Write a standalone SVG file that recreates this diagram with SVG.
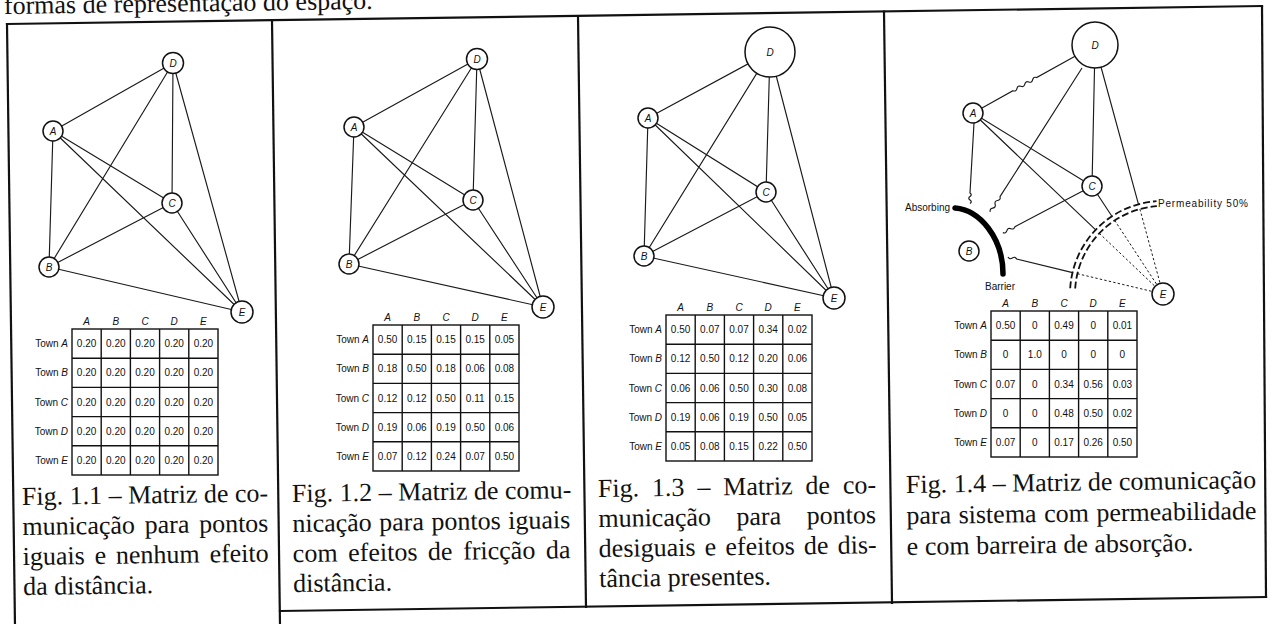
<svg xmlns="http://www.w3.org/2000/svg" width="1276" height="624" viewBox="0 0 1276 624">
<style>
.frame{stroke:#111;stroke-width:2.2;fill:none;stroke-linecap:square}
.edge{stroke:#1a1a1a;stroke-width:1.15;fill:none}
.dot{stroke:#1a1a1a;stroke-width:1;fill:none;stroke-dasharray:2.4 2.2}
.node circle{fill:#fff;stroke:#111;stroke-width:1.5}
.nl{font-family:'Liberation Sans',Arial,sans-serif;font-style:italic;font-size:10px;text-anchor:middle;fill:#111}
.grid{stroke:#111;stroke-width:1.4;fill:none}
.tv{font-family:'Liberation Sans',Arial,sans-serif;font-size:10px;text-anchor:middle;fill:#111}
.tl{font-family:'Liberation Sans',Arial,sans-serif;font-size:10px;text-anchor:end;fill:#111}
.th{font-family:'Liberation Sans',Arial,sans-serif;font-style:italic;font-size:10px;text-anchor:middle;fill:#111}
.i{font-style:italic}
.cap{font-family:'Liberation Serif','Times New Roman',serif;font-size:26px;fill:#111}
.lab{font-family:'Liberation Sans',Arial,sans-serif;font-size:10px;fill:#111}
.perm{stroke:#111;stroke-width:1.8;fill:none;stroke-dasharray:7 3}
</style>
<rect width="1276" height="624" fill="#fff"/>
<text class="cap" x="4" y="14" font-size="25" transform="rotate(-0.8 4 14)">formas de representação do espaço.</text>

<g id="frame">
<line class="frame" x1="7" y1="24" x2="1262" y2="6"/>
<line class="frame" x1="7" y1="24" x2="15" y2="626"/>
<line class="frame" x1="272" y1="20" x2="280" y2="626"/>
<line class="frame" x1="578" y1="16" x2="586" y2="607"/>
<line class="frame" x1="884" y1="11.5" x2="892" y2="603"/>
<line class="frame" x1="1262" y1="6" x2="1266" y2="597"/>
<line class="frame" x1="280" y1="611" x2="1266" y2="597"/>
</g>

<g id="connectors">
<path class="edge" d="M53,131L173,63M53,131L49,267M53,131L172,203M53,131L242,312M173,63L49,267M173,63L172,203M173,63L242,312M172,203L49,267M172,203L242,312M49,267L242,312"/>
<path class="edge" d="M354,127L477,59M354,127L349,264M354,127L473,200M354,127L543,307M477,59L349,264M477,59L473,200M477,59L543,307M473,200L349,264M473,200L543,307M349,264L543,307"/>
<path class="edge" d="M648,118L770,52M648,118L644,256M648,118L766,192M648,118L834,298M770,52L644,256M770,52L766,192M770,52L834,298M766,192L644,256M766,192L834,298M644,256L834,298"/>
<path class="edge" d="M982,108L1013,90.7q3.18,1.08 3.93,-2.19t3.93,-2.19t3.93,-2.19t3.93,-2.19t3.93,-2.19t3.93,-2.19L1075,56.2"/>
<path class="edge" d="M974,123L970,193q2.5,1.75 0,3.5t0,3.5t0,3.5"/>
<path class="edge" d="M1082,68L1000,196.7q0.9,3.24 -2.42,3.8t-2.42,3.8t-2.42,3.8t-2.42,3.8"/>
<path class="edge" d="M1083.2,190.7L1015,226.7q-0.93,3.23 -4.05,1.97t-4.05,1.97t-4.05,1.97"/>
<path class="edge" d="M1008,256.9q1.56,2.97 4.36,1.11t4.36,1.11L1072.6,272.6"/>
<path class="dot" d="M1077.4,273.7L1163,294"/>
<path class="edge" d="M973,113L1092,186M1095,45L1092,186"/>
<path class="edge" d="M973,113L1095.7,229.8M1092,186L1111.9,216.3M1095,45L1138.5,204.3"/>
<path class="dot" d="M1099.3,233.3L1163,294M1114.7,220.4L1163,294M1139.9,209.1L1163,294"/>
</g>

<g id="barriers">
<path d="M955,208C980,210 1003,238 1003,274" stroke="#000" stroke-width="5.5" fill="none" stroke-linecap="round"/>
<path class="perm" d="M1070.2,288.2A93,93 0 0 1 1156.5,201.2"/>
<path class="perm" d="M1075.2,288.5A88,88 0 0 1 1156.9,206.2"/>
<text class="lab" x="905" y="211">Absorbing</text>
<text class="lab" x="985" y="290">Barrier</text>
<text class="lab" x="1158" y="207" textLength="90" lengthAdjust="spacing">Permeability 50%</text>
</g>

<g id="p1-A" class="node"><circle cx="53" cy="131" r="10"/><text class="nl" x="53" y="134.5">A</text></g>
<g id="p1-B" class="node"><circle cx="49" cy="267" r="10"/><text class="nl" x="49" y="270.5">B</text></g>
<g id="p1-C" class="node"><circle cx="172" cy="203" r="10"/><text class="nl" x="172" y="206.5">C</text></g>
<g id="p1-D" class="node"><circle cx="173" cy="63" r="10.5"/><text class="nl" x="173" y="66.5">D</text></g>
<g id="p1-E" class="node"><circle cx="242" cy="312" r="11"/><text class="nl" x="242" y="315.5">E</text></g>

<g id="p2-A" class="node"><circle cx="354" cy="127" r="10"/><text class="nl" x="354" y="130.5">A</text></g>
<g id="p2-B" class="node"><circle cx="349" cy="264" r="10"/><text class="nl" x="349" y="267.5">B</text></g>
<g id="p2-C" class="node"><circle cx="473" cy="200" r="10"/><text class="nl" x="473" y="203.5">C</text></g>
<g id="p2-D" class="node"><circle cx="477" cy="59" r="10.5"/><text class="nl" x="477" y="62.5">D</text></g>
<g id="p2-E" class="node"><circle cx="543" cy="307" r="11"/><text class="nl" x="543" y="310.5">E</text></g>

<g id="p3-A" class="node"><circle cx="648" cy="118" r="10"/><text class="nl" x="648" y="121.5">A</text></g>
<g id="p3-B" class="node"><circle cx="644" cy="256" r="10"/><text class="nl" x="644" y="259.5">B</text></g>
<g id="p3-C" class="node"><circle cx="766" cy="192" r="10"/><text class="nl" x="766" y="195.5">C</text></g>
<g id="p3-D" class="node"><circle cx="770" cy="52" r="25"/><text class="nl" x="770" y="55.5">D</text></g>
<g id="p3-E" class="node"><circle cx="834" cy="298" r="11"/><text class="nl" x="834" y="301.5">E</text></g>

<g id="p4-A" class="node"><circle cx="973" cy="113" r="10"/><text class="nl" x="973" y="116.5">A</text></g>
<g id="p4-B" class="node"><circle cx="969" cy="251" r="10"/><text class="nl" x="969" y="254.5">B</text></g>
<g id="p4-C" class="node"><circle cx="1092" cy="186" r="10"/><text class="nl" x="1092" y="189.5">C</text></g>
<g id="p4-D" class="node"><circle cx="1095" cy="45" r="23"/><text class="nl" x="1095" y="48.5">D</text></g>
<g id="p4-E" class="node"><circle cx="1163" cy="294" r="11"/><text class="nl" x="1163" y="297.5">E</text></g>

<g id="table1">
<rect class="grid" x="72" y="329" width="146" height="146"/>
<path class="grid" d="M101.2,329V475M130.4,329V475M159.6,329V475M188.8,329V475M72,358.2H218M72,387.4H218M72,416.6H218M72,445.8H218"/>
<text class="th" y="325"><tspan x="86.6">A</tspan><tspan x="115.8">B</tspan><tspan x="145">C</tspan><tspan x="174.2">D</tspan><tspan x="203.4">E</tspan></text>
<text class="tl" x="68" y="347.1">Town <tspan class="i">A</tspan></text>
<text class="tl" x="68" y="376.3">Town <tspan class="i">B</tspan></text>
<text class="tl" x="68" y="405.5">Town <tspan class="i">C</tspan></text>
<text class="tl" x="68" y="434.7">Town <tspan class="i">D</tspan></text>
<text class="tl" x="68" y="463.9">Town <tspan class="i">E</tspan></text>
<text class="tv" y="347.1"><tspan x="86.6">0.20</tspan><tspan x="115.8">0.20</tspan><tspan x="145">0.20</tspan><tspan x="174.2">0.20</tspan><tspan x="203.4">0.20</tspan></text>
<text class="tv" y="376.3"><tspan x="86.6">0.20</tspan><tspan x="115.8">0.20</tspan><tspan x="145">0.20</tspan><tspan x="174.2">0.20</tspan><tspan x="203.4">0.20</tspan></text>
<text class="tv" y="405.5"><tspan x="86.6">0.20</tspan><tspan x="115.8">0.20</tspan><tspan x="145">0.20</tspan><tspan x="174.2">0.20</tspan><tspan x="203.4">0.20</tspan></text>
<text class="tv" y="434.7"><tspan x="86.6">0.20</tspan><tspan x="115.8">0.20</tspan><tspan x="145">0.20</tspan><tspan x="174.2">0.20</tspan><tspan x="203.4">0.20</tspan></text>
<text class="tv" y="463.9"><tspan x="86.6">0.20</tspan><tspan x="115.8">0.20</tspan><tspan x="145">0.20</tspan><tspan x="174.2">0.20</tspan><tspan x="203.4">0.20</tspan></text>
</g>

<g id="table2">
<rect class="grid" x="373" y="325" width="146" height="146"/>
<path class="grid" d="M402.2,325V471M431.4,325V471M460.6,325V471M489.8,325V471M373,354.2H519M373,383.4H519M373,412.6H519M373,441.8H519"/>
<text class="th" y="321"><tspan x="387.6">A</tspan><tspan x="416.8">B</tspan><tspan x="446">C</tspan><tspan x="475.2">D</tspan><tspan x="504.4">E</tspan></text>
<text class="tl" x="369" y="343.1">Town <tspan class="i">A</tspan></text>
<text class="tl" x="369" y="372.3">Town <tspan class="i">B</tspan></text>
<text class="tl" x="369" y="401.5">Town <tspan class="i">C</tspan></text>
<text class="tl" x="369" y="430.7">Town <tspan class="i">D</tspan></text>
<text class="tl" x="369" y="459.9">Town <tspan class="i">E</tspan></text>
<text class="tv" y="343.1"><tspan x="387.6">0.50</tspan><tspan x="416.8">0.15</tspan><tspan x="446">0.15</tspan><tspan x="475.2">0.15</tspan><tspan x="504.4">0.05</tspan></text>
<text class="tv" y="372.3"><tspan x="387.6">0.18</tspan><tspan x="416.8">0.50</tspan><tspan x="446">0.18</tspan><tspan x="475.2">0.06</tspan><tspan x="504.4">0.08</tspan></text>
<text class="tv" y="401.5"><tspan x="387.6">0.12</tspan><tspan x="416.8">0.12</tspan><tspan x="446">0.50</tspan><tspan x="475.2">0.11</tspan><tspan x="504.4">0.15</tspan></text>
<text class="tv" y="430.7"><tspan x="387.6">0.19</tspan><tspan x="416.8">0.06</tspan><tspan x="446">0.19</tspan><tspan x="475.2">0.50</tspan><tspan x="504.4">0.06</tspan></text>
<text class="tv" y="459.9"><tspan x="387.6">0.07</tspan><tspan x="416.8">0.12</tspan><tspan x="446">0.24</tspan><tspan x="475.2">0.07</tspan><tspan x="504.4">0.50</tspan></text>
</g>

<g id="table3">
<rect class="grid" x="666" y="315" width="146" height="146"/>
<path class="grid" d="M695.2,315V461M724.4,315V461M753.6,315V461M782.8,315V461M666,344.2H812M666,373.4H812M666,402.6H812M666,431.8H812"/>
<text class="th" y="311"><tspan x="680.6">A</tspan><tspan x="709.8">B</tspan><tspan x="739">C</tspan><tspan x="768.2">D</tspan><tspan x="797.4">E</tspan></text>
<text class="tl" x="662" y="333.1">Town <tspan class="i">A</tspan></text>
<text class="tl" x="662" y="362.3">Town <tspan class="i">B</tspan></text>
<text class="tl" x="662" y="391.5">Town <tspan class="i">C</tspan></text>
<text class="tl" x="662" y="420.7">Town <tspan class="i">D</tspan></text>
<text class="tl" x="662" y="449.9">Town <tspan class="i">E</tspan></text>
<text class="tv" y="333.1"><tspan x="680.6">0.50</tspan><tspan x="709.8">0.07</tspan><tspan x="739">0.07</tspan><tspan x="768.2">0.34</tspan><tspan x="797.4">0.02</tspan></text>
<text class="tv" y="362.3"><tspan x="680.6">0.12</tspan><tspan x="709.8">0.50</tspan><tspan x="739">0.12</tspan><tspan x="768.2">0.20</tspan><tspan x="797.4">0.06</tspan></text>
<text class="tv" y="391.5"><tspan x="680.6">0.06</tspan><tspan x="709.8">0.06</tspan><tspan x="739">0.50</tspan><tspan x="768.2">0.30</tspan><tspan x="797.4">0.08</tspan></text>
<text class="tv" y="420.7"><tspan x="680.6">0.19</tspan><tspan x="709.8">0.06</tspan><tspan x="739">0.19</tspan><tspan x="768.2">0.50</tspan><tspan x="797.4">0.05</tspan></text>
<text class="tv" y="449.9"><tspan x="680.6">0.05</tspan><tspan x="709.8">0.08</tspan><tspan x="739">0.15</tspan><tspan x="768.2">0.22</tspan><tspan x="797.4">0.50</tspan></text>
</g>

<g id="table4">
<rect class="grid" x="991" y="311" width="146" height="146"/>
<path class="grid" d="M1020.2,311V457M1049.4,311V457M1078.6,311V457M1107.8,311V457M991,340.2H1137M991,369.4H1137M991,398.6H1137M991,427.8H1137"/>
<text class="th" y="307"><tspan x="1005.6">A</tspan><tspan x="1034.8">B</tspan><tspan x="1064">C</tspan><tspan x="1093.2">D</tspan><tspan x="1122.4">E</tspan></text>
<text class="tl" x="987" y="329.1">Town <tspan class="i">A</tspan></text>
<text class="tl" x="987" y="358.3">Town <tspan class="i">B</tspan></text>
<text class="tl" x="987" y="387.5">Town <tspan class="i">C</tspan></text>
<text class="tl" x="987" y="416.7">Town <tspan class="i">D</tspan></text>
<text class="tl" x="987" y="445.9">Town <tspan class="i">E</tspan></text>
<text class="tv" y="329.1"><tspan x="1005.6">0.50</tspan><tspan x="1034.8">0</tspan><tspan x="1064">0.49</tspan><tspan x="1093.2">0</tspan><tspan x="1122.4">0.01</tspan></text>
<text class="tv" y="358.3"><tspan x="1005.6">0</tspan><tspan x="1034.8">1.0</tspan><tspan x="1064">0</tspan><tspan x="1093.2">0</tspan><tspan x="1122.4">0</tspan></text>
<text class="tv" y="387.5"><tspan x="1005.6">0.07</tspan><tspan x="1034.8">0</tspan><tspan x="1064">0.34</tspan><tspan x="1093.2">0.56</tspan><tspan x="1122.4">0.03</tspan></text>
<text class="tv" y="416.7"><tspan x="1005.6">0</tspan><tspan x="1034.8">0</tspan><tspan x="1064">0.48</tspan><tspan x="1093.2">0.50</tspan><tspan x="1122.4">0.02</tspan></text>
<text class="tv" y="445.9"><tspan x="1005.6">0.07</tspan><tspan x="1034.8">0</tspan><tspan x="1064">0.17</tspan><tspan x="1093.2">0.26</tspan><tspan x="1122.4">0.50</tspan></text>
</g>

<g id="caption1" transform="rotate(-0.8 22 505)">
<text class="cap" x="22" y="505">Fig. 1.1 – Matriz de co-</text>
<text class="cap" x="22" y="535" word-spacing="3.2">municação para pontos</text>
<text class="cap" x="22" y="565" word-spacing="3.3">iguais e nenhum efeito</text>
<text class="cap" x="22" y="595">da distância.</text>
</g>
<g id="caption2" transform="rotate(-0.8 292 502)">
<text class="cap" x="292" y="502">Fig. 1.2 – Matriz de comu-</text>
<text class="cap" x="292" y="532" word-spacing="1">nicação para pontos iguais</text>
<text class="cap" x="292" y="562" word-spacing="4.1">com efeitos de fricção da</text>
<text class="cap" x="292" y="592">distância.</text>
</g>
<g id="caption3" transform="rotate(-0.8 598 497)">
<text class="cap" x="598" y="497" word-spacing="6.4">Fig. 1.3 – Matriz de co-</text>
<text class="cap" x="598" y="527" word-spacing="19">municação para pontos</text>
<text class="cap" x="598" y="557" word-spacing="2.7">desiguais e efeitos de dis-</text>
<text class="cap" x="598" y="587">tância presentes.</text>
</g>
<g id="caption4" transform="rotate(-0.8 906 493)">
<text class="cap" x="906" y="493" font-size="24.5">Fig. 1.4 – Matriz de comunicação</text>
<text class="cap" x="906" y="524" font-size="24.5" word-spacing="1">para sistema com permeabilidade</text>
<text class="cap" x="906" y="555" font-size="24.5">e com barreira de absorção.</text>
</g>
</svg>
